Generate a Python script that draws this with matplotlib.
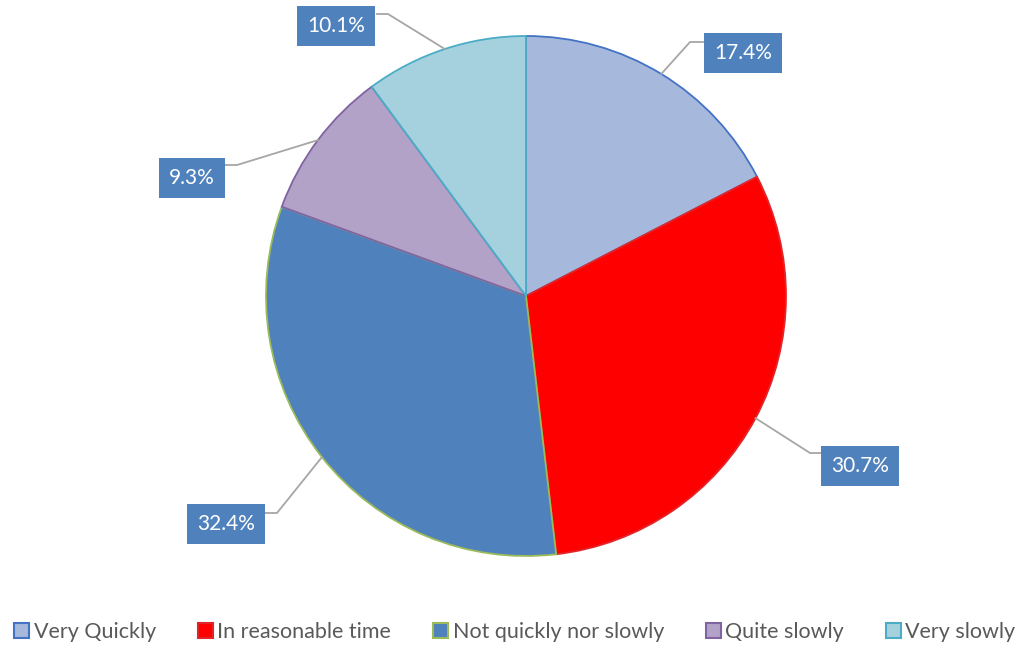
import matplotlib
matplotlib.use("Agg")
import matplotlib.pyplot as plt
from matplotlib.patches import Patch
import numpy as np

categories = ["Very Quickly", "In reasonable time", "Not quickly nor slowly", "Quite slowly", "Very slowly"]
values = [17.4, 30.7, 32.4, 9.3, 10.1]
labels = ["17.4%", "30.7%", "32.4%", "9.3%", "10.1%"]

face_colors = ["#A6B9DC", "#FF0000", "#4F81BD", "#B2A2C7", "#A5D1DF"]
edge_colors = ["#4472C4", "#E0262A", "#9BBB59", "#8064A2", "#4BACC6"]

plt.rcParams['font.family'] = ['Lato', 'DejaVu Sans']

W, H = 1030, 648
fig = plt.figure(figsize=(W / 100, H / 100), dpi=100)
ax = fig.add_axes([0, 0, 1, 1])

cx, cy, R = 526, H - 296, 260
wedges, _ = ax.pie(values, colors=face_colors, startangle=90, counterclock=False,
                   center=(cx, cy), radius=R, frame=True,
                   wedgeprops=dict(linewidth=1.3))
for w, ec in zip(wedges, edge_colors):
    w.set_edgecolor(ec)
ax.set_xlim(0, W)
ax.set_ylim(0, H)
ax.set_aspect('equal')
ax.axis('off')

# label box centres (pixel coords, top-origin) and elbow positions
box_pos = [(743, 53), (860, 466), (226, 524), (192, 178), (336, 26)]
elbow = [(690, 42), (810, 453), (277, 513), (237, 165), (388, 14)]
box_edge_x = [703, 823, 264, 224, 377]

for w, lab, (bx, by), (ex, ey), bex in zip(wedges, labels, box_pos, elbow, box_edge_x):
    mid = np.deg2rad((w.theta1 + w.theta2) / 2)
    px = cx + R * np.cos(mid)
    py = cy + R * np.sin(mid)
    ax.plot([px, ex, bex], [py, H - ey, H - ey], color="#A6A6A6", lw=1.3, zorder=3)
    ax.text(bx, H - by, lab, ha='center', va='center', color='white', fontsize=15,
            zorder=4,
            bbox=dict(boxstyle='square,pad=0.5', facecolor='#4F81BD', edgecolor='none'))

handles = [Patch(facecolor=f, edgecolor=e, linewidth=1.5) for f, e in zip(face_colors, edge_colors)]
leg = fig.legend(handles, categories, loc='center', bbox_to_anchor=(0.5, 1 - 632 / H),
                 ncol=5, frameon=False, fontsize=15.5, handlelength=0.7, handleheight=0.7,
                 handletextpad=0.2, columnspacing=1.95, labelcolor='#595959')

fig.savefig("out.png", dpi=100)
